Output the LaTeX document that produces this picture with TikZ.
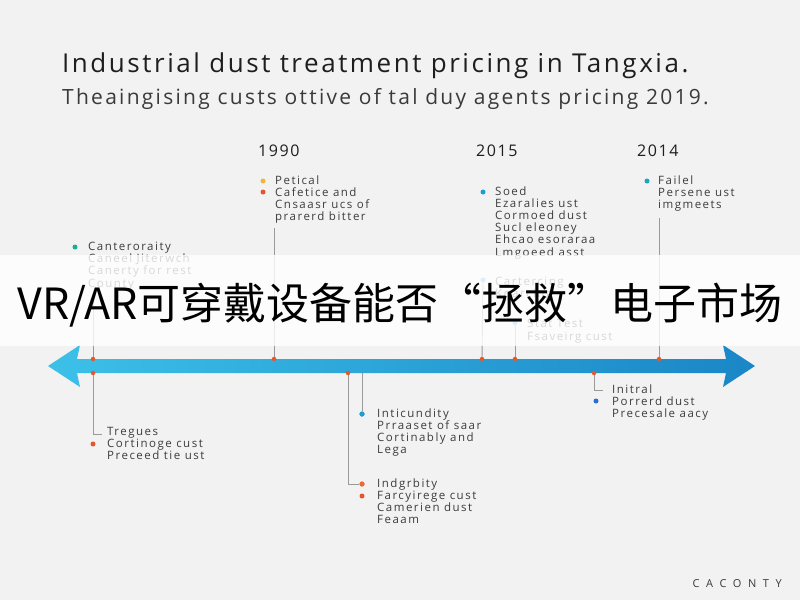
\documentclass[tikz,border=0pt]{standalone}
\usepackage{fontspec}
\setmainfont{Open Sans}
\newfontfamily\cjk{Noto Sans CJK SC}
\definecolor{bgc}{HTML}{F2F2F2}
\definecolor{ink}{HTML}{1E1E1E}
\definecolor{sub}{HTML}{3A3A3A}
\definecolor{lab}{HTML}{3C3C3C}
\definecolor{barL}{HTML}{3CC0E8}
\definecolor{barR}{HTML}{1A86C6}
\definecolor{tickc}{HTML}{E05A2C}
\definecolor{cyel}{HTML}{F2B53A}
\definecolor{cred}{HTML}{E4572E}
\definecolor{cora}{HTML}{EE6A35}
\definecolor{ccya}{HTML}{1A9FD0}
\definecolor{cteal}{HTML}{1AA7B4}
\definecolor{cgrn}{HTML}{1AAE94}
\definecolor{clb}{HTML}{47B7E0}
\definecolor{cblu}{HTML}{2A6FD0}
\definecolor{linec}{HTML}{9A9A9A}
\begin{document}
\begin{tikzpicture}[x=1pt,y=-1pt,
  lbl/.style={anchor=base west,inner sep=0pt,align=left,text=lab,font=\fontsize{11.5}{12.2}\addfontfeature{LetterSpace=13}\selectfont},
  yr/.style={anchor=base west,inner sep=0pt,text=ink,font=\fontsize{16}{18}\addfontfeature{LetterSpace=10}\selectfont},
  dot/.style={circle,fill=#1,inner sep=0pt,minimum size=5pt},
  tick/.style={circle,fill=tickc,inner sep=0pt,minimum size=4.5pt},
  conn/.style={draw=linec,line width=0.9pt}]
\fill[bgc] (0,0) rectangle (800,600);
\useasboundingbox (0,0) rectangle (800,600);

% titles
\node[anchor=base west,inner sep=0pt,text=ink,font=\fontsize{26}{28}\addfontfeature{LetterSpace=9.8}\selectfont] (title) at (62,72) {Industrial dust treatment pricing in Tangxia.};
\node[anchor=base west,inner sep=0pt,text=sub,font=\fontsize{21}{23}\addfontfeature{LetterSpace=10.8}\selectfont] (subtitle) at (62,104) {Theaingising custs ottive of tal duy agents pricing 2019.};

% years
\node[yr] (y1990) at (258,156) {1990};
\node[yr] (y2015) at (476,156) {2015};
\node[yr] (y2014) at (637,156) {2014};

% top text groups (anchor = baseline of last line)
\node[lbl] (g1990) at (275,220.6) {Petical\\Cafetice and\\Cnsaasr ucs of\\prarerd bitter};
\node[dot=cyel] (d1990a) at (263,181) {};
\node[dot=cred] (d1990b) at (263,192) {};

\node[lbl] (g2015) at (495,256) {Soed\\Ezaralies ust\\Cormoed dust\\Sucl eleoney\\Ehcao esoraraa\\Lmgoeed asst};
\node[dot=ccya] (d2015) at (483,192) {};

\node[lbl] (g2014) at (658,208.4) {Failel\\Persene ust\\imgmeets};
\node[dot=cteal] (d2014) at (647,181) {};

\node[lbl] (gleft) at (88,287) {Canteroraity\\Caneel Jiterwch\\Canerty for rest\\County};
\node[dot=cgrn] (dleft) at (75,247) {};

\node[lbl] (gcart) at (495,297.2) {Cartercing\\Koarcing};
\node[dot=clb] (dcart) at (483,280) {};
\node[lbl] (gstar) at (527,340) {Stat Test\\Fsaveirg cust};
\node[dot=clb] (dstar) at (515,323) {};

% bottom text groups
\node[lbl] (gtreg) at (107,459.4) {Tregues\\Cortinoge cust\\Preceed tie ust};
\node[dot=cred] (dtreg) at (93,444) {};

\node[lbl] (gintic) at (377,453.6) {Inticundity\\Prraaset of saar\\Cortinably and\\Lega};
\node[lbl] (gindg) at (377,523.6) {Indgrbity\\Farcyirege cust\\Camerien dust\\Feaam};
\node[dot=cred] (dindg2) at (362,496) {};

\node[lbl] (ginit) at (612,417.4) {Initral\\Porrerd dust\\Precesale aacy};
\node[dot=cblu] (dinit) at (596,401) {};

% tick points and connector ends
\coordinate (ta) at (93,359);  \coordinate (ea) at (93,292);
\coordinate (tb) at (274,359); \coordinate (eb) at (274,228);
\coordinate (tc) at (482,359);
\coordinate (td) at (515,359);
\coordinate (te) at (659,359); \coordinate (ee) at (659,218);
\coordinate (ba) at (93,373);  \coordinate (ka) at (102,434);
\coordinate (bb) at (348,373);
\coordinate (bc) at (362,373);
\coordinate (bd) at (594,373); \coordinate (kd) at (603,390);

\draw[conn] (ta) -- (ea);
\draw[conn] (tb) -- (eb);
\draw[conn] (tc) -- (dcart);
\draw[conn] (td) -- (dstar);
\draw[conn] (te) -- (ee);
\draw[conn] (ba) |- (ka);
\draw[conn] (bd) |- (kd);
\node[dot=cblu] (dintic) at (362,414) {};
\node[dot=cora] (dindg) at (362,484) {};
\draw[conn] (bc) -- (dintic);
\draw[conn] (bb) |- (dindg);
\node[dot=ccya] at (dintic) {};
\node[dot=cora] at (dindg) {};

% timeline bar
\shade[left color=barL,right color=barR]
  (48,366) -- (80,345) -- (77,359) -- (726,359) -- (723,345) -- (755,366)
  -- (723,387) -- (726,373) -- (77,373) -- (80,387) -- cycle;
\foreach \x/\n in {93/a,274/b,482/c,515/d,659/e}{\node[tick] (tk\n) at (\x,359) {};}
\foreach \x/\n in {93/a,348/b,594/d}{\node[tick] (bk\n) at (\x,373) {};}

% band with overlay title
\fill[white,opacity=0.8] (0,255) rectangle (800,346);
\node[inner sep=0pt,text=black,font=\cjk\fontsize{43}{46}\selectfont] (banner) at (400,305) {VR/AR可穿戴设备能否“拯救”电子市场};

% footer
\node[anchor=base east,inner sep=0pt,text=sub,font=\fontsize{11}{12}\addfontfeature{LetterSpace=60}\selectfont] (footer) at (782,587) {CACONTY};
\end{tikzpicture}
\end{document}
